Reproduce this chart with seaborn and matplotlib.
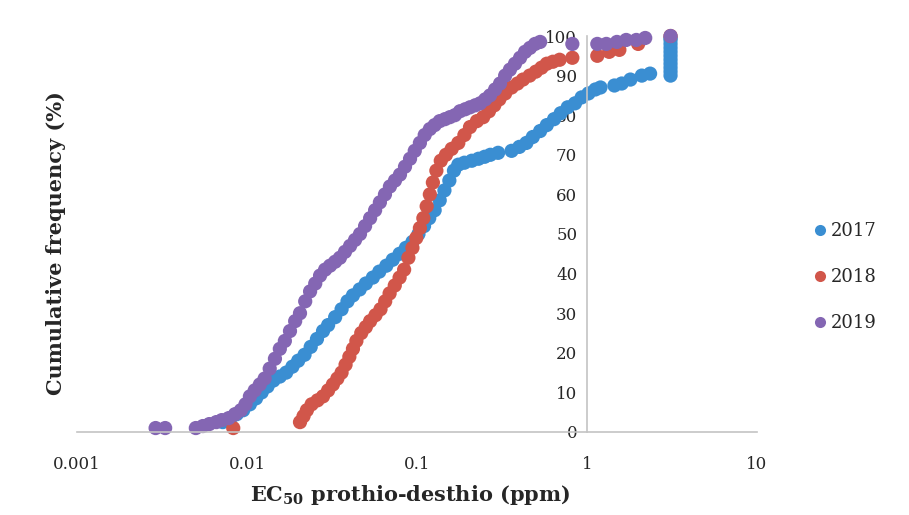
#!/usr/bin/env python
#

#Import libraries required for plotting
import pandas as pd
import seaborn as sns
from matplotlib import pyplot as plt
from matplotlib.lines import Line2D

#EC50 values (ppm) and cumulative frequency (%)
ec50_2017 = [0.0072, 0.0080, 0.0087, 0.0095, 0.0104, 0.0113, 0.0122, 0.0132, 0.0143, 0.0156,
             0.0170, 0.0185, 0.0200, 0.0218, 0.0237, 0.0258, 0.028, 0.030, 0.033, 0.036,
             0.039, 0.042, 0.046, 0.050, 0.055, 0.060, 0.066, 0.072, 0.079, 0.086,
             0.094, 0.102, 0.110, 0.118, 0.127, 0.136, 0.145, 0.155, 0.165, 0.175,
             0.19, 0.21, 0.23, 0.25, 0.27, 0.30, 0.36, 0.40, 0.44, 0.48,
             0.53, 0.58, 0.64, 0.70, 0.77, 0.85, 0.93, 1.02, 1.12, 1.2,
             1.45, 1.6, 1.8, 2.1, 2.35, 3.1, 3.1, 3.1, 3.1, 3.1,
             3.1, 3.1, 3.1, 3.1, 3.1, 3.1]
freq_2017 = [2.5, 3.5, 4.5, 5.5, 7, 8.5, 10, 11.5, 13, 14,
             15, 16.5, 18, 19.5, 21.5, 23.5, 25.5, 27, 29, 31,
             33, 34.5, 36, 37.5, 39, 40.5, 42, 43.5, 45, 46.5,
             48, 50, 52, 54, 56, 58.5, 61, 63.5, 66, 67.5,
             68, 68.5, 69, 69.5, 70, 70.5, 71, 72, 73, 74.5,
             76, 77.5, 79, 80.5, 82, 83, 84.5, 85.5, 86.5, 87,
             87.5, 88, 89, 90, 90.5, 90, 91, 92, 93, 94,
             95, 96, 97, 98, 99, 99.5]

ec50_2018 = [0.0083, 0.0205, 0.0215, 0.0225, 0.0240, 0.0260, 0.0280, 0.030, 0.032, 0.034,
             0.036, 0.038, 0.040, 0.042, 0.044, 0.047, 0.050, 0.053, 0.057, 0.061,
             0.065, 0.069, 0.074, 0.079, 0.084, 0.089, 0.094, 0.099, 0.104, 0.109,
             0.114, 0.119, 0.124, 0.130, 0.138, 0.148, 0.160, 0.175, 0.190, 0.205,
             0.225, 0.245, 0.265, 0.285, 0.305, 0.33, 0.36, 0.39, 0.42, 0.46,
             0.50, 0.54, 0.58, 0.63, 0.69, 0.82, 1.15, 1.35, 1.55, 2.0,
             3.1]
freq_2018 = [1, 2.5, 4, 5.5, 7, 8, 9, 10.5, 12, 13.5,
             15, 17, 19, 21, 23, 25, 26.5, 28, 29.5, 31,
             33, 35, 37, 39, 41, 44, 46.5, 49, 51.5, 54,
             57, 60, 63, 66, 68.5, 70, 71.5, 73, 75, 77,
             78.5, 79.5, 81, 82.5, 84, 85.5, 87, 88, 89, 90,
             91, 92, 93, 93.5, 94, 94.5, 95, 96, 96.5, 98,
             100]

ec50_2019 = [0.0029, 0.0033, 0.0050, 0.0055, 0.0060, 0.0066, 0.0071, 0.0078, 0.0085, 0.0092,
             0.0098, 0.0104, 0.0111, 0.0119, 0.0127, 0.0136, 0.0146, 0.0156, 0.0167, 0.0179,
             0.0192, 0.0205, 0.0220, 0.0235, 0.0252, 0.0269, 0.0288, 0.0308, 0.0330, 0.0352,
             0.0377, 0.0404, 0.0432, 0.0462, 0.0495, 0.0530, 0.0567, 0.0605, 0.0648, 0.0693,
             0.0742, 0.0794, 0.085, 0.091, 0.097, 0.104, 0.111, 0.119, 0.127, 0.136,
             0.146, 0.156, 0.167, 0.179, 0.192, 0.205, 0.220, 0.235, 0.252, 0.269,
             0.288, 0.308, 0.330, 0.352, 0.377, 0.404, 0.432, 0.462, 0.495, 0.53,
             0.82, 1.15, 1.3, 1.5, 1.7, 1.95, 2.2, 3.1]
freq_2019 = [1, 1, 1, 1.5, 2, 2.5, 3, 3.5, 4.5, 5.5,
             7, 9, 10.5, 12, 13.5, 16, 18.5, 21, 23, 25.5,
             28, 30, 33, 35.5, 37.5, 39.5, 41, 42, 43, 44,
             45.5, 47, 48.5, 50, 52, 54, 56, 58, 60, 62,
             63.5, 65, 67, 69, 71, 73, 75, 76.5, 77.5, 78.5,
             79, 79.5, 80, 81, 81.5, 82, 82.5, 83, 84, 85,
             86.5, 88, 90, 91.5, 93, 94.5, 96, 97, 98, 98.5,
             98, 98, 98, 98.5, 99, 99, 99.5, 100]

years = ['2017', '2018', '2019']
colors = ['#3a8ed2', '#d1564a', '#8466b3']

#Build long data frame, 2019 last so it is drawn on top
df = pd.concat([
    pd.DataFrame({'EC50': ec50_2017, 'Freq': freq_2017, 'Year': '2017'}),
    pd.DataFrame({'EC50': ec50_2018, 'Freq': freq_2018, 'Year': '2018'}),
    pd.DataFrame({'EC50': ec50_2019, 'Freq': freq_2019, 'Year': '2019'}),
], ignore_index=True)

#Plot setup
sns.set_style('white')
plt.rcParams['font.family'] = ['DejaVu Serif']
plt.rcParams['mathtext.fontset'] = 'dejavuserif'
fig = plt.figure(figsize=(9.09, 5.15), dpi=100)
ax = fig.add_axes([77/909, 83/515, 680/909, 396/515])

g = sns.scatterplot(data=df, x='EC50', y='Freq', hue='Year', palette=colors,
                    s=105, linewidth=0, alpha=1, legend=False, ax=ax)
for c in ax.collections:
    c.set_clip_on(False)

#Axes: log x, y axis crossing at 1
ax.set_xscale('log')
ax.set(xlim=(0.001, 10), ylim=(0, 100))
ax.set_xticks([0.001, 0.01, 0.1, 1, 10])
ax.set_xticklabels(['0.001', '0.01', '0.1', '1', '10'])
ax.minorticks_off()
ax.set_yticks(range(0, 101, 10))
ax.spines['left'].set_position(('data', 1))
ax.spines['bottom'].set_position(('data', 0))
for side in ['top', 'right']:
    ax.spines[side].set_visible(False)
for side in ['left', 'bottom']:
    ax.spines[side].set_color('#c4c4c4')
    ax.spines[side].set_linewidth(1.2)
ax.tick_params(axis='x', length=0, pad=17, labelsize=12)
ax.tick_params(axis='y', length=0, pad=7, labelsize=12)
ax.set_xlabel('')
ax.set_ylabel('')

#Axis titles
fig.text(410/909, 1 - 495/515, r'EC$_{\mathbf{50}}$ prothio-desthio (ppm)',
         ha='center', va='center', fontsize=15, fontweight='bold')
fig.text(56/909, 1 - 243/515, 'Cumulative frequency (%)', rotation=90,
         ha='center', va='center', fontsize=15, fontweight='bold')

#Legend
handles = [Line2D([], [], marker='o', linestyle='', markersize=8, color=c,
                  markeredgewidth=0) for c in colors]
fig.legend(handles, years, loc='center left', bbox_to_anchor=(806/909, 1 - 277/515),
           frameon=False, fontsize=13, handlelength=0.6, handletextpad=0.3,
           labelspacing=1.55, borderpad=0)

#Save plot
fig.savefig('out.png', dpi=100)
